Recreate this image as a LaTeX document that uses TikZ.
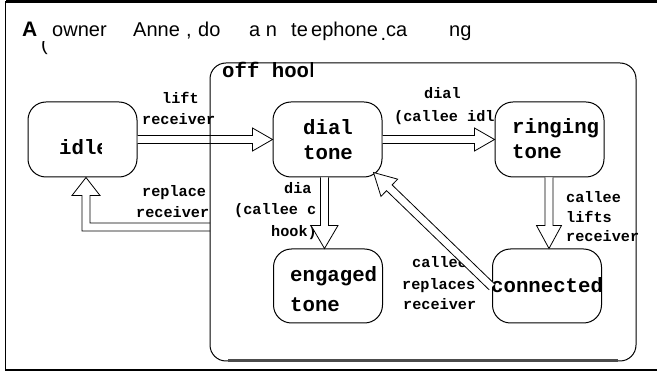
\documentclass[tikz,border=0pt]{standalone}
\usepackage{fontspec}
\setmainfont{Liberation Sans}
\setmonofont{Liberation Mono}
\usetikzlibrary{arrows.meta,calc}
\newcommand\harrow[5]{%
  \coordinate (hc) at ($(#2)!#4!(#1)$);
  \draw[tr] ($(#1)!#3!90:(#2)$) -- ($(hc)!#3!-90:(#1)$) -- ($(hc)!#5!-90:(#1)$) -- (#2) -- ($(hc)!#5!90:(#1)$) -- ($(hc)!#3!90:(#1)$) -- ($(#1)!#3!-90:(#2)$);
}
\begin{document}
\begin{tikzpicture}[x=1pt,y=-1pt,
  box/.style={draw, line width=1pt, rounded corners=18pt, minimum width=109pt, minimum height=75pt, inner sep=0pt, fill=white},
  stxt/.style={anchor=base west, inner sep=0pt, font=\ttfamily\bfseries\fontsize{20.7}{25}\selectfont},
  lbl/.style={anchor=base west, inner sep=0pt, font=\ttfamily\bfseries\fontsize{15.2}{20}\selectfont},
  ttl/.style={anchor=base west, inner sep=0pt, font=\fontsize{20}{24}\selectfont},
  tr/.style={line width=0.8pt, fill=white, line join=miter},
  frame/.style={draw, line width=1pt, rounded corners=16pt, minimum width=426pt, minimum height=298pt, inner sep=0pt},
]
\useasboundingbox (0,0) rectangle (657,371);
% outer frame
\coordinate (f1) at (657,1.5);
\coordinate (f2) at (5.5,1.5);
\coordinate (f3) at (5.5,370);
\coordinate (f4) at (657,370);
\draw[line width=3pt] (f1) -- (f2);
\draw[line width=1.8pt] (f2) -- (f3) -- (f4);
% title
\node[ttl, font=\bfseries\fontsize{21}{25}\selectfont] (tA) at (22,37) {A};
\begin{scope}
\clip (38,42) rectangle (52,58);
\node[ttl] (tP) at (41,51) {(};
\end{scope}
\node[ttl] (t1) at (52,37) {owner};
\node[ttl] (t2) at (133,37) {Anne};
\node[ttl] (t3) at (186,37) {,};
\node[ttl] (t4) at (198,37) {do};
\node[ttl] (t5) at (249,37) {a n};
\node[ttl] (t6a) at (291,37) {te};
\node[ttl] (t6b) at (311,37) {ephone};
\node[ttl] (t7) at (380.5,41) {.};
\node[ttl] (t8) at (386,37) {ca};
\node[ttl] (t9) at (449,37) {ng};
% labels
\node[lbl] (l1a) at (162,104) {lift};
\node[lbl] (l1b) at (142,125) {receiver};
\node[lbl] (l2a) at (142,197) {replace};
\node[lbl] (l2b) at (136,218) {receiver};
\node[lbl] (l3a) at (424,99) {dial};
\node[lbl] (l3b) at (394,122) {(callee idle)};
\node[lbl] (l5a) at (284,194) {dia};
\node[lbl] (l5b) at (234,215) {(callee c};
\node[lbl] (l5c) at (271,237) {hook)};
\node[lbl] (l4a) at (566,203) {callee};
\node[lbl] (l4b) at (566,223) {lifts};
\node[lbl] (l4c) at (566,242) {receiver};
\node[lbl] (l6a) at (412,268) {callee};
\node[lbl] (l6b) at (402,290) {replaces};
\node[lbl] (l6c) at (403,310) {receiver};
% states
\node[box] (idle) at (82.5,139.5) {};
\node[box] (dial) at (327.5,139.5) {};
\node[box] (ring) at (549.5,139.5) {};
\node[box, minimum height=74pt] (eng) at (328,286) {};
\node[box, minimum height=74pt] (conn) at (547,286) {};
\begin{scope}
\clip (28,100) rectangle (101,180);
\node[stxt] (s1) at (59,155) {idle};
\end{scope}
\node[stxt] (s2a) at (303,135) {dial};
\node[stxt] (s2b) at (303,160) {tone};
\node[stxt] (s3a) at (512,134) {ringing};
\node[stxt] (s3b) at (512,159) {tone};
\node[stxt] (s4a) at (290,282) {engaged};
\node[stxt] (s4b) at (290,312) {tone};
\node[stxt] (s5) at (491,293) {connected};
% transitions
\coordinate (ohL) at (210,227);
\coordinate (idS) at ($(idle.south)+(3.5,0)$);
\coordinate (d5) at ($(dial.south)+(-3,0)$);
\coordinate (d5e) at (d5 |- eng.north);
\coordinate (r4) at ($(ring.south)+(-0.5,0)$);
\coordinate (r4e) at (r4 |- conn.north);
\coordinate (dtip) at ($(dial.south east)+(-9,-5)$);
\coordinate (cw) at ($(conn.west)+(0,1)$);
\harrow{idle.east}{dial.west}{4pt}{20pt}{11.5pt}
\harrow{dial.east}{ring.west}{4pt}{20pt}{11.5pt}
\harrow{r4}{r4e}{4pt}{23pt}{12.5pt}
\harrow{d5}{d5e}{4pt}{23pt}{13.5pt}
\harrow{cw}{dtip}{4pt}{22pt}{12pt}
\draw[tr] ($(ohL)+(0,-4)$) -- ($(ohL -| idS)+(4,-4)$) -- ($(idS)+(4,18)$) -- ($(idS)+(14,18)$) -- (idS) -- ($(idS)+(-14,18)$) -- ($(idS)+(-4,18)$) -- ($(ohL -| idS)+(-4,4)$) -- ($(ohL)+(0,4)$);
% off hook super-state
\node[frame] (oh) at (423,212) {};
\coordinate (ob1) at (228,360.6);
\coordinate (ob2) at (618,360.6);
\draw[line width=2.2pt, black!70] (ob1) -- (ob2);
\begin{scope}
\clip (215,60) rectangle (312,90);
\node[stxt] (ohl) at (222,78) {off hook};
\end{scope}
\end{tikzpicture}
\end{document}
